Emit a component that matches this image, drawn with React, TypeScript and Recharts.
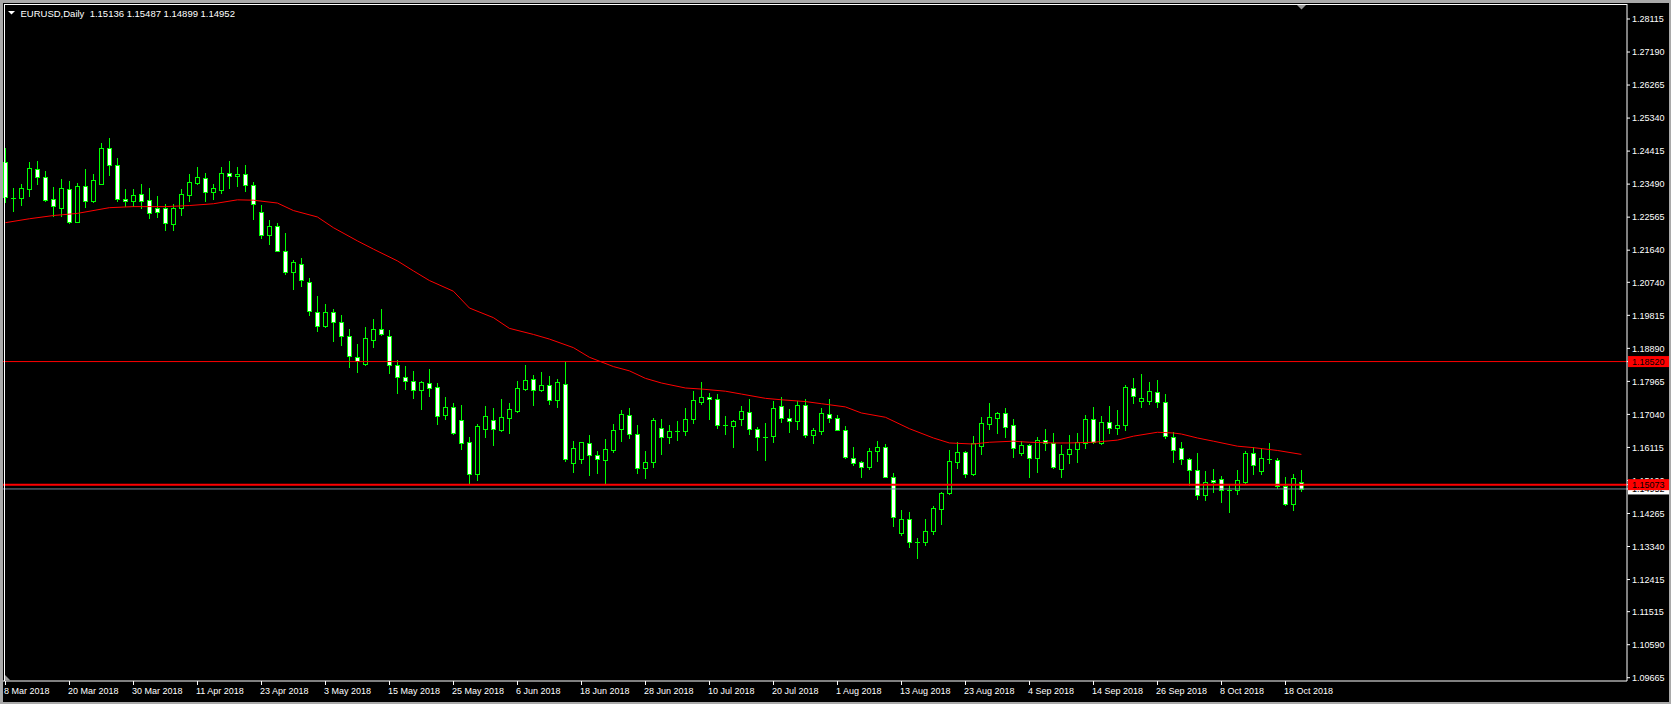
import React from "react";
import { ComposedChart, Bar, Line, XAxis, YAxis, ReferenceLine } from "recharts";

const FONT = "'Liberation Sans', Arial, Helvetica, sans-serif";
const W = 1671;
const H = 704;

// one label every 8 bars, starting at bar 0
const dateLabels = [
  "8 Mar 2018", "20 Mar 2018", "30 Mar 2018", "11 Apr 2018", "23 Apr 2018", "3 May 2018",
  "15 May 2018", "25 May 2018", "6 Jun 2018", "18 Jun 2018", "28 Jun 2018", "10 Jul 2018",
  "20 Jul 2018", "1 Aug 2018", "13 Aug 2018", "23 Aug 2018", "4 Sep 2018", "14 Sep 2018",
  "26 Sep 2018", "8 Oct 2018", "18 Oct 2018",
];

const opens = [
  1.2412, 1.2309, 1.2311, 1.2336, 1.2392, 1.2370, 1.2308, 1.2283, 1.2336, 1.2244,
  1.2345, 1.2301, 1.2350, 1.2451, 1.2403, 1.2308, 1.2301, 1.2322, 1.2305, 1.2281,
  1.2281, 1.2237, 1.2283, 1.2318, 1.2352, 1.2367, 1.2328, 1.2333, 1.2381, 1.2372,
  1.2378, 1.2347, 1.2272, 1.2206, 1.2233, 1.2163, 1.2103, 1.2124, 1.2076, 1.1992,
  1.1952, 1.1990, 1.1962, 1.1923, 1.1864, 1.1846, 1.1913, 1.1942, 1.1925, 1.1841,
  1.1808, 1.1797, 1.1771, 1.1792, 1.1780, 1.1701, 1.1724, 1.1688, 1.1626, 1.1536,
  1.1664, 1.1688, 1.1659, 1.1695, 1.1714, 1.1776, 1.1802, 1.1773, 1.1786, 1.1745,
  1.1789, 1.1569, 1.1578, 1.1624, 1.1590, 1.1575, 1.1603, 1.1664, 1.1702, 1.1649,
  1.1555, 1.1571, 1.1666, 1.1640, 1.1657, 1.1657, 1.1691, 1.1738, 1.1752, 1.1746,
  1.1674, 1.1671, 1.1691, 1.1710, 1.1663, 1.1642, 1.1643, 1.1727, 1.1693, 1.1685,
  1.1730, 1.1645, 1.1657, 1.1705, 1.1693, 1.1660, 1.1583, 1.1571, 1.1557, 1.1601,
  1.1612, 1.1529, 1.1371, 1.1411, 1.1348, 1.1347, 1.1377, 1.1438, 1.1483, 1.1572,
  1.1599, 1.1536, 1.1615, 1.1678, 1.1695, 1.1707, 1.1674, 1.1596, 1.1618, 1.1581,
  1.1632, 1.1624, 1.1550, 1.1592, 1.1607, 1.1625, 1.1691, 1.1623, 1.1684, 1.1666,
  1.1674, 1.1777, 1.1741, 1.1741, 1.1766, 1.1738, 1.1640, 1.1610, 1.1579, 1.1548,
  1.1478, 1.1520, 1.1523, 1.1492, 1.1492, 1.1515, 1.1596, 1.1545, 1.1579, 1.1576,
  1.1503, 1.1452, 1.15136,
];

const highs = [
  1.2449, 1.2337, 1.2348, 1.2410, 1.2415, 1.2387, 1.2341, 1.2362, 1.2357, 1.2353,
  1.2390, 1.2376, 1.2463, 1.2479, 1.2423, 1.2336, 1.2334, 1.2348, 1.2337, 1.2317,
  1.2292, 1.2292, 1.2334, 1.2378, 1.2398, 1.2381, 1.2348, 1.2398, 1.2414, 1.2398,
  1.2403, 1.2356, 1.2291, 1.2248, 1.2241, 1.2211, 1.2136, 1.2141, 1.2086, 1.2035,
  1.2013, 1.1999, 1.1982, 1.1943, 1.1901, 1.1949, 1.1971, 1.1999, 1.1940, 1.1856,
  1.1840, 1.1826, 1.1797, 1.1831, 1.1792, 1.1753, 1.1735, 1.1731, 1.1640, 1.1678,
  1.1728, 1.1722, 1.1747, 1.1736, 1.1798, 1.1842, 1.1814, 1.1823, 1.1812, 1.1803,
  1.1854, 1.1630, 1.1628, 1.1647, 1.1602, 1.1635, 1.1678, 1.1716, 1.1722, 1.1675,
  1.1602, 1.1693, 1.1692, 1.1675, 1.1686, 1.1722, 1.1770, 1.1795, 1.1764, 1.1761,
  1.1700, 1.1687, 1.1728, 1.1747, 1.1669, 1.1680, 1.1742, 1.1753, 1.1719, 1.1741,
  1.1747, 1.1666, 1.1721, 1.1747, 1.1703, 1.1671, 1.1613, 1.1573, 1.1610, 1.1630,
  1.1621, 1.1540, 1.1436, 1.1431, 1.1359, 1.1411, 1.1448, 1.1488, 1.1605, 1.1627,
  1.1602, 1.1644, 1.1697, 1.1736, 1.1712, 1.1722, 1.1692, 1.1630, 1.1621, 1.1641,
  1.1664, 1.1652, 1.1619, 1.1647, 1.1652, 1.1703, 1.1725, 1.1700, 1.1728, 1.1717,
  1.1787, 1.1806, 1.1817, 1.1795, 1.1800, 1.1761, 1.1654, 1.1626, 1.1582, 1.1597,
  1.1546, 1.1552, 1.1532, 1.1507, 1.1549, 1.1602, 1.1613, 1.1610, 1.1624, 1.1582,
  1.1529, 1.1537, 1.15487,
];

const lows = [
  1.2299, 1.2274, 1.2290, 1.2315, 1.2348, 1.2301, 1.2260, 1.2260, 1.2239, 1.2243,
  1.2285, 1.2300, 1.2349, 1.2374, 1.2301, 1.2287, 1.2289, 1.2283, 1.2255, 1.2257,
  1.2220, 1.2220, 1.2262, 1.2303, 1.2348, 1.2301, 1.2306, 1.2324, 1.2337, 1.2343,
  1.2329, 1.2250, 1.2198, 1.2180, 1.2162, 1.2097, 1.2056, 1.2064, 1.1983, 1.1938,
  1.1949, 1.1910, 1.1899, 1.1838, 1.1824, 1.1843, 1.1893, 1.1927, 1.1820, 1.1765,
  1.1775, 1.1750, 1.1718, 1.1756, 1.1676, 1.1692, 1.1648, 1.1608, 1.1510, 1.1519,
  1.1642, 1.1617, 1.1657, 1.1653, 1.1712, 1.1773, 1.1729, 1.1770, 1.1734, 1.1726,
  1.1574, 1.1544, 1.1567, 1.1533, 1.1539, 1.1508, 1.1600, 1.1630, 1.1637, 1.1541,
  1.1527, 1.1558, 1.1592, 1.1623, 1.1631, 1.1645, 1.1681, 1.1734, 1.1692, 1.1667,
  1.1650, 1.1614, 1.1675, 1.1650, 1.1603, 1.1575, 1.1628, 1.1684, 1.1656, 1.1664,
  1.1642, 1.1623, 1.1650, 1.1684, 1.1659, 1.1583, 1.1561, 1.1530, 1.1550, 1.1574,
  1.1528, 1.1391, 1.1366, 1.1332, 1.1301, 1.1337, 1.1368, 1.1396, 1.1480, 1.1555,
  1.1530, 1.1535, 1.1594, 1.1664, 1.1652, 1.1641, 1.1586, 1.1589, 1.1530, 1.1544,
  1.1605, 1.1553, 1.1528, 1.1567, 1.1572, 1.1611, 1.1624, 1.1620, 1.1653, 1.1650,
  1.1659, 1.1735, 1.1726, 1.1733, 1.1726, 1.1639, 1.1572, 1.1564, 1.1505, 1.1466,
  1.1463, 1.1486, 1.1460, 1.1432, 1.1480, 1.1512, 1.1536, 1.1538, 1.1567, 1.1498,
  1.1449, 1.1435, 1.14899,
];

const closes = [
  1.2314, 1.2311, 1.2339, 1.2395, 1.2370, 1.2304, 1.2289, 1.2339, 1.2243, 1.2345,
  1.2303, 1.2361, 1.2451, 1.2403, 1.2308, 1.2301, 1.2319, 1.2301, 1.2269, 1.2272,
  1.2240, 1.2283, 1.2322, 1.2356, 1.2370, 1.2328, 1.2339, 1.2381, 1.2372, 1.2378,
  1.2347, 1.2294, 1.2206, 1.2233, 1.2163, 1.2103, 1.2132, 1.2081, 1.1994, 1.1952,
  1.1990, 1.1963, 1.1924, 1.1868, 1.1853, 1.1917, 1.1942, 1.1928, 1.1841, 1.1810,
  1.1797, 1.1771, 1.1795, 1.1779, 1.1699, 1.1724, 1.1653, 1.1625, 1.1536, 1.1671,
  1.1699, 1.1662, 1.1696, 1.1719, 1.1777, 1.1800, 1.1771, 1.1787, 1.1745, 1.1795,
  1.1578, 1.1610, 1.1626, 1.1589, 1.1578, 1.1607, 1.1660, 1.1705, 1.1648, 1.1555,
  1.1571, 1.1688, 1.1640, 1.1657, 1.1658, 1.1691, 1.1744, 1.1752, 1.1746, 1.1674,
  1.1673, 1.1685, 1.1713, 1.1664, 1.1640, 1.1641, 1.1721, 1.1693, 1.1685, 1.1730,
  1.1645, 1.1660, 1.1707, 1.1693, 1.1660, 1.1585, 1.1568, 1.1557, 1.1601, 1.1612,
  1.1529, 1.1417, 1.1411, 1.1347, 1.1347, 1.1378, 1.1442, 1.1484, 1.1573, 1.1599,
  1.1536, 1.1624, 1.1680, 1.1696, 1.1707, 1.1670, 1.1609, 1.1618, 1.1581, 1.1632,
  1.1623, 1.1558, 1.1593, 1.1607, 1.1626, 1.1691, 1.1626, 1.1684, 1.1666, 1.1674,
  1.1780, 1.1755, 1.1749, 1.1769, 1.1738, 1.1643, 1.1604, 1.1579, 1.1548, 1.1478,
  1.1515, 1.1515, 1.1492, 1.1493, 1.1520, 1.1596, 1.1561, 1.1582, 1.1578, 1.1503,
  1.1452, 1.1526, 1.14952,
];

// moving average, read at these bars
const maBars = [
  0, 3, 6, 9, 13, 16, 20, 23, 26, 29, 31, 34, 36, 39, 41, 44, 46, 49, 51, 53,
  56, 58, 61, 63, 66, 68, 71, 73, 76, 78, 80, 82, 85, 87, 90, 92, 95, 97, 100, 102,
  105, 107, 110, 113, 116, 118, 121, 123, 126, 128, 131, 133, 136, 139, 141, 144, 146, 147, 149, 151,
  154, 156, 159, 162,
];
const maValues = [
  1.2241, 1.2252, 1.2261, 1.2267, 1.2283, 1.2286, 1.2286, 1.2289, 1.2294, 1.2305,
  1.2304, 1.2296, 1.2275, 1.2257, 1.2227, 1.2190, 1.2167, 1.2134, 1.2106, 1.2079,
  1.2049, 1.2002, 1.1975, 1.1945, 1.1928, 1.1915, 1.1891, 1.1864, 1.1838, 1.1826,
  1.1805, 1.1792, 1.1778, 1.1775, 1.1769, 1.1761, 1.1749, 1.1745, 1.1740, 1.1734,
  1.1725, 1.1708, 1.1696, 1.1664, 1.1638, 1.1624, 1.1621, 1.1626, 1.1629, 1.1626,
  1.1624, 1.1624, 1.1626, 1.1632, 1.1643, 1.1654, 1.1652, 1.1649, 1.1638, 1.1629,
  1.1615, 1.1611, 1.1603, 1.1592,
];

const priceTicks = [
  1.28115, 1.2719, 1.26265, 1.2534, 1.24415, 1.2349, 1.22565, 1.2164, 1.2074, 1.19815,
  1.1889, 1.17965, 1.1704, 1.16115, 1.1519, 1.14265, 1.1334, 1.12415, 1.11515, 1.1059, 1.09665,
];

const levelHigh = 1.1852;
const levelLow = 1.15073;
const bidPrice = 1.14952;
const titleText = "EURUSD,Daily  1.15136 1.15487 1.14899 1.14952";

// price tags go on the price axis after the plain ticks, bid first so the red ones cover it
const tagPrices = [bidPrice, levelLow, levelHigh];
const tagColors = new Map<number, string>([
  [bidPrice, "#ffffff"],
  [levelLow, "#ff0000"],
  [levelHigh, "#ff0000"],
]);
const axisTicks = [...priceTicks, ...tagPrices];

const SLOTS = 203; // bars plus the empty shift on the right
const maLookup = new Map(maBars.map((b, k) => [b, maValues[k]]));

const rows = Array.from({ length: SLOTS }, (_, i) =>
  i < opens.length
    ? {
        i,
        o: opens[i],
        h: highs[i],
        l: lows[i],
        c: closes[i],
        range: [lows[i], highs[i]],
        ma: maLookup.has(i) ? maLookup.get(i) : null,
      }
    : { i, range: null, ma: null }
);

function Candle(props: any) {
  const { x, y, width, height, payload } = props;
  if (!payload || payload.o == null || height == null || isNaN(y)) return <g />;
  const { o, h, l, c } = payload;
  const top = Math.min(y, y + height);
  const span = h - l;
  const ppu = span > 0 ? Math.abs(height) / span : 0;
  const yOf = (v: number) => top + (h - v) * ppu;
  const cx = Math.floor(x + width / 2) + 0.5;
  const bTop = Math.round(yOf(Math.max(o, c)));
  const bBot = Math.round(yOf(Math.min(o, c)));
  const bear = c < o;
  return (
    <g>
      <line x1={cx} x2={cx} y1={Math.round(top)} y2={Math.round(top + Math.abs(height)) + 1} stroke="#00ff00" strokeWidth={1} />
      {bBot - bTop >= 1 ? (
        <rect x={cx - 2} y={bTop + 0.5} width={4} height={bBot - bTop} fill={bear ? "#ffffff" : "#000000"} stroke="#00ff00" strokeWidth={1} />
      ) : (
        <line x1={cx - 2.5} x2={cx + 2.5} y1={bTop + 0.5} y2={bTop + 0.5} stroke="#00ff00" strokeWidth={1} />
      )}
    </g>
  );
}

function DateTick(props: any) {
  const { x, y, payload } = props;
  const i = Number(payload?.value);
  if (i % 8 !== 0 || i / 8 >= dateLabels.length) return <g />;
  const tx = Math.floor(x) + 0.5;
  return (
    <g>
      <line x1={tx} x2={tx} y1={y} y2={y + 4} stroke="#ffffff" strokeWidth={1} />
      <text x={Math.floor(x) - 1} y={y + 13} fill="#ffffff" fontSize={9} fontFamily={FONT} textAnchor="start">
        {dateLabels[i / 8]}
      </text>
    </g>
  );
}

function PriceTick(props: any) {
  const { x, y, payload } = props;
  const v = Number(payload?.value);
  const tag = tagColors.get(v);
  if (tag) {
    const left = x - 4;
    return (
      <g>
        <rect x={left} y={y - 5.5} width={44} height={11} fill={tag} />
        <text x={left + 4} y={y + 3.5} fill="#000000" fontSize={9} fontFamily={FONT}>
          {v.toFixed(5)}
        </text>
      </g>
    );
  }
  return (
    <text x={x} y={y + 3.2} fill="#ffffff" fontSize={9} fontFamily={FONT} textAnchor="start">
      {v.toFixed(5)}
    </text>
  );
}

export default function App() {
  return (
    <div style={{ position: "relative", width: W, height: H, background: "#000000", overflow: "hidden" }}>
      <style>{`body{margin:0;background:#000}`}</style>
      <ComposedChart width={W} height={H} data={rows} margin={{ top: 4, right: 0, bottom: 0, left: 1.4 }}>
        <XAxis
          dataKey="i"
          type="category"
          height={23}
          interval={0}
          tickLine={false}
          tickSize={0}
          tickMargin={0}
          padding={{ left: 0, right: 1.6 }}
          axisLine={{ stroke: "#ffffff" }}
          tick={<DateTick />}
        />
        <YAxis
          orientation="right"
          width={44}
          domain={[1.09573, 1.28535]}
          allowDataOverflow
          ticks={axisTicks}
          interval={0}
          tick={<PriceTick />}
          tickSize={3}
          tickMargin={2}
          tickLine={{ stroke: "#ffffff" }}
          axisLine={{ stroke: "#ffffff" }}
        />
        <Bar dataKey="range" barSize={5} shape={<Candle />} isAnimationActive={false} />
        <Line
          dataKey="ma"
          type="linear"
          stroke="#ff0000"
          strokeWidth={1}
          dot={false}
          connectNulls
          isAnimationActive={false}
        />
        <ReferenceLine y={bidPrice} stroke="#778899" strokeWidth={1} />
        <ReferenceLine y={levelHigh} stroke="#ff0000" strokeWidth={1} />
        <ReferenceLine y={levelLow} stroke="#ff0000" strokeWidth={2} />
      </ComposedChart>
      <svg width={W} height={H} style={{ position: "absolute", left: 0, top: 0, pointerEvents: "none" }}>
        <rect x={0} y={0} width={W} height={3} fill="#a9a9a9" />
        <rect x={0} y={0} width={3} height={H} fill="#a9a9a9" />
        <rect x={W - 2} y={0} width={2} height={H} fill="#a9a9a9" />
        <rect x={0} y={H - 2} width={W} height={2} fill="#a9a9a9" />
        <line x1={4.5} x2={4.5} y1={4} y2={681} stroke="#ffffff" strokeWidth={1} />
        <line x1={4} x2={1627} y1={4.5} y2={4.5} stroke="#ffffff" strokeWidth={1} />
        <polygon points="1297,5 1306,5 1301.5,9.5" fill="#9a9a9a" />
        <polygon points="5,675 5,680.5 10.5,680.5" fill="#9a9a9a" />
        <polygon points="8,11 15,11 11.5,14.5" fill="#ffffff" />
        <text x={20.5} y={16.5} fill="#ffffff" fontSize={9.5} fontFamily={FONT} style={{ whiteSpace: "pre" }}>
          {titleText}
        </text>
      </svg>
    </div>
  );
}
